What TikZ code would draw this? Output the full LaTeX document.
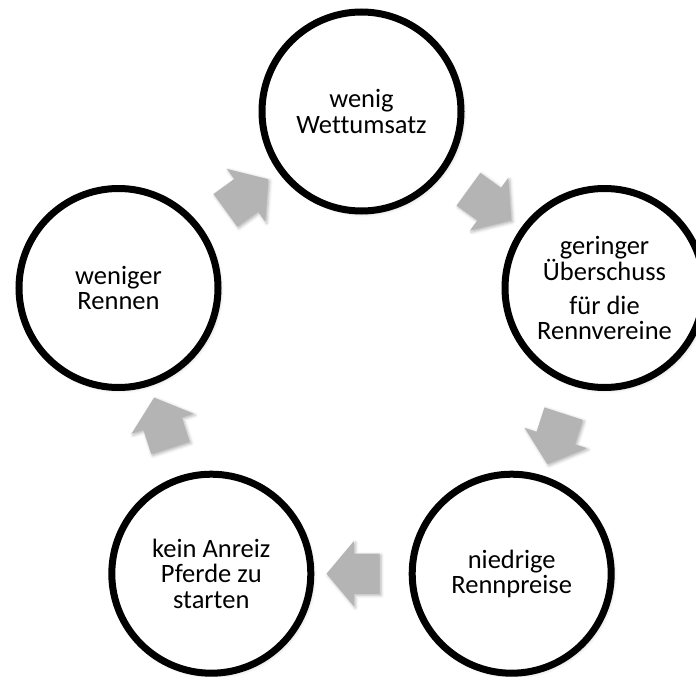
\documentclass[tikz,border=0pt]{standalone}
\usepackage{fontspec}
\setmainfont{Carlito}[Ligatures=NoCommon]
\usetikzlibrary{shapes.arrows,shadows.blur}
\definecolor{arrowgray}{RGB}{180,180,180}
\begin{document}
\begin{tikzpicture}[x=1pt,y=-1pt,
  stage/.style={circle, draw=black, line width=7pt, fill=white,
    minimum size=199pt, inner sep=0pt, align=center,
    font=\fontsize{26.5}{25.5}\selectfont,
    blur shadow={shadow xshift=2pt, shadow yshift=-2pt,
      shadow opacity=25, shadow blur radius=4pt}},
  flow/.style={single arrow, fill=arrowgray, draw=none,
    minimum height=53pt, inner xsep=0pt, inner ysep=20pt,
    single arrow head extend=12.5pt, single arrow tip angle=100,
    sloped, allow upside down,
    blur shadow={shadow xshift=1.5pt, shadow yshift=-1.5pt,
      shadow opacity=30, shadow blur radius=3pt}}
]
\useasboundingbox (0,0) rectangle (696,677);

% the five stages of the cycle
\node[stage] (c1) at (361.5,111.5) {wenig\\Wettumsatz};
\node[stage] (c2) at (604.5,288)   {geringer\\Überschuss\\[8pt]für die\\Rennvereine};
\node[stage] (c3) at (511.7,573.7) {niedrige\\Rennpreise};
\node[stage] (c4) at (211.3,573.7) {kein Anreiz\\Pferde zu\\starten};
\node[stage] (c5) at (118.5,288)   {weniger\\Rennen};

% block arrows between neighbouring stages
\path (c1) -- node[flow] (a12) {} (c2);
\path (c2) -- node[flow] (a23) {} (c3);
\path (c3) -- node[flow] (a34) {} (c4);
\path (c4) -- node[flow] (a45) {} (c5);
\path (c5) -- node[flow] (a51) {} (c1);
\end{tikzpicture}
\end{document}
